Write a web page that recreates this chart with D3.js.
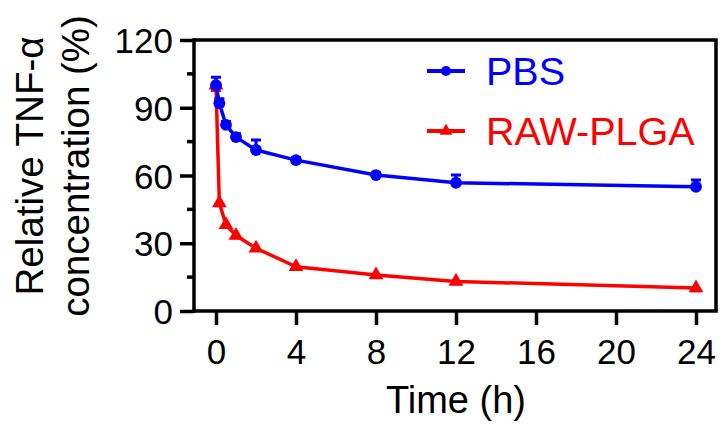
<!DOCTYPE html>
<html>
<head>
<meta charset="utf-8">
<script src="https://cdn.jsdelivr.net/npm/d3@7"></script>
<style>
  html, body { margin: 0; padding: 0; background: #fff; }
  svg { display: block; }
  text { font-family: "Liberation Sans", Arial, Helvetica, sans-serif; fill: #000; }
</style>
</head>
<body>
<svg id="chart" width="722" height="425"></svg>
<script>
// Sampling times (h)
const times = [0, 0.167, 0.5, 1, 2, 4, 8, 12, 24];
// Relative TNF-α concentration (%) per group, with SD
const pbsValues = [100, 92, 82.4, 77, 71.3, 66.8, 60.2, 56.8, 55];
const pbsErrors = [3.5, 2, 1.5, 1.5, 4.4, 1.2, 1, 3.4, 3];
const rawValues = [100, 47.8, 38.2, 33.4, 27.8, 19.6, 15.9, 13.1, 10.2];
const rawErrors = [2.4, 1, 1, 1, 1, 1, 1, 1, 1.2];
const xTicks = [0, 4, 8, 12, 16, 20, 24];
const yTicks = [0, 30, 60, 90, 120];
const yMinorTicks = [15, 45, 75, 105];
const seriesNames = ["PBS", "RAW-PLGA"];
const seriesColors = ["#0000ff", "#ff0000"];

const svg = d3.select("#chart");
const plotLeft = 194, plotRight = 716, plotTop = 40, plotBottom = 311;

const x = d3.scaleLinear().domain([-1.1, 25]).range([plotLeft, plotRight]);
const y = d3.scaleLinear().domain([0, 120]).range([plotBottom, plotTop]);

const axisW = 3.5;

// Frame (top and right borders)
svg.append("path")
  .attr("d", `M${plotLeft},${plotTop}H${plotRight}V${plotBottom}`)
  .attr("fill", "none").attr("stroke", "#000").attr("stroke-width", axisW);

// Y axis
const yAxis = svg.append("g").attr("transform", `translate(${plotLeft},0)`)
  .call(d3.axisLeft(y).tickValues(yTicks).tickSize(14).tickPadding(7).tickFormat(d3.format("d")));
yAxis.select(".domain").remove();
yAxis.selectAll(".tick line").attr("stroke-width", axisW);
yAxis.selectAll(".tick text").attr("font-size", 35).attr("font-family", null).attr("dy", "0.36em");
yAxis.append("g").selectAll("line").data(yMinorTicks).join("line")
  .attr("x1", -7).attr("x2", 0).attr("y1", d => y(d)).attr("y2", d => y(d))
  .attr("stroke", "#000").attr("stroke-width", axisW);
svg.append("line").attr("x1", plotLeft).attr("x2", plotLeft)
  .attr("y1", plotTop - axisW / 2).attr("y2", plotBottom + axisW / 2)
  .attr("stroke", "#000").attr("stroke-width", axisW);

// X axis
const xAxis = svg.append("g").attr("transform", `translate(0,${plotBottom})`)
  .call(d3.axisBottom(x).tickValues(xTicks).tickSize(14).tickPadding(14).tickFormat(d3.format("d")));
xAxis.select(".domain").remove();
xAxis.selectAll(".tick line").attr("stroke-width", axisW);
xAxis.selectAll(".tick text").attr("font-size", 35).attr("font-family", null);
svg.append("line").attr("x1", plotLeft - axisW / 2).attr("x2", plotRight + axisW / 2)
  .attr("y1", plotBottom).attr("y2", plotBottom)
  .attr("stroke", "#000").attr("stroke-width", axisW);

// Axis titles
svg.append("text").attr("x", (x(0) + x(24)) / 2).attr("y", 413)
  .attr("text-anchor", "middle").attr("font-size", 38).text("Time (h)");
const yt = svg.append("text").attr("transform", "translate(43,166) rotate(-90)")
  .attr("text-anchor", "middle").attr("font-size", 38.5);
yt.append("tspan").attr("x", 0).attr("y", 0).text("Relative TNF-α");
yt.append("tspan").attr("x", 0).attr("y", 46).text("concentration (%)");

// Series
const series = [
  { name: seriesNames[1], color: seriesColors[1], vals: rawValues, errs: rawErrors, dir: 1, shape: d3.symbolTriangle },
  { name: seriesNames[0], color: seriesColors[0], vals: pbsValues, errs: pbsErrors, dir: -1, shape: d3.symbolCircle }
];
const line = d3.line().x(d => x(d[0])).y(d => y(d[1]));
const capW = 5;

series.forEach(s => {
  const pts = times.map((t, i) => [t, s.vals[i], s.errs[i]]);
  const g = svg.append("g");
  g.append("path").attr("d", line(pts)).attr("fill", "none")
    .attr("stroke", s.color).attr("stroke-width", 3.5).attr("stroke-linejoin", "round");
  // error bars: PBS drawn upward, RAW-PLGA downward
  g.selectAll("path.err").data(pts).join("path").attr("class", "err")
    .attr("d", d => {
      const y0 = y(d[1]);
      const y1 = s.dir < 0 ? y(d[1] + d[2]) : y(d[1] - d[2]);
      return `M${x(d[0])},${y0}V${y1}M${x(d[0]) - capW},${y1}H${x(d[0]) + capW}`;
    })
    .attr("fill", "none").attr("stroke", s.color).attr("stroke-width", 3);
  g.selectAll("path.pt").data(pts).join("path").attr("class", "pt")
    .attr("transform", d => `translate(${x(d[0])},${y(d[1])})`)
    .attr("d", d3.symbol().type(s.shape).size(s.shape === d3.symbolCircle ? 110 : 95))
    .attr("fill", s.color);
});

// Legend
const legend = [
  { name: seriesNames[0], color: seriesColors[0], shape: d3.symbolCircle, size: 80, y: 71 },
  { name: seriesNames[1], color: seriesColors[1], shape: d3.symbolTriangle, size: 70, y: 131 }
];
legend.forEach(l => {
  svg.append("line").attr("x1", 427).attr("x2", 465).attr("y1", l.y).attr("y2", l.y)
    .attr("stroke", l.color).attr("stroke-width", 4);
  svg.append("path").attr("transform", `translate(446,${l.y})`)
    .attr("d", d3.symbol().type(l.shape).size(l.size)).attr("fill", l.color);
  svg.append("text").attr("x", 486).attr("y", l.y + 14).attr("font-size", 39.5)
    .attr("fill", l.color).style("fill", l.color).text(l.name);
});
</script>
</body>
</html>
